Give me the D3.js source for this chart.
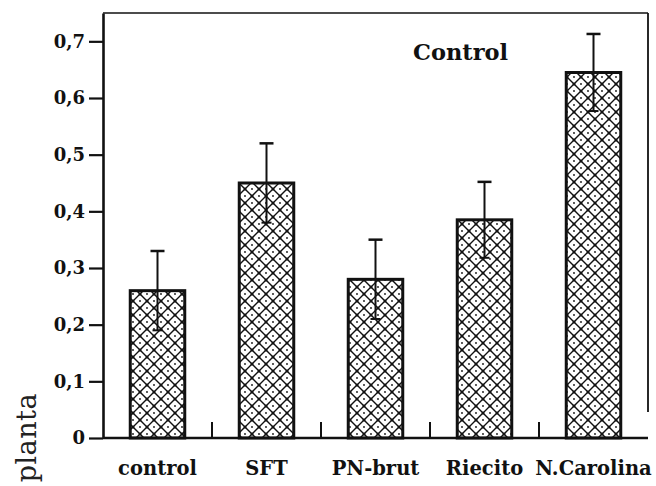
<!DOCTYPE html>
<html>
<head>
<meta charset="utf-8">
<script src="https://cdn.jsdelivr.net/npm/d3@7"></script>
<style>
  html, body { margin: 0; padding: 0; background: #fff; }
  svg { display: block; }
</style>
</head>
<body>
<div id="chart"></div>
<script>
const categories = ["control", "SFT", "PN-brut", "Riecito", "N.Carolina"];
const means = [0.26, 0.45, 0.28, 0.385, 0.645];
const errors = [0.07, 0.07, 0.07, 0.067, 0.068];
const yTicks = [0, 0.1, 0.2, 0.3, 0.4, 0.5, 0.6, 0.7];
const title = "Control";
const yLabel = "planta";

const width = 656, height = 486;
const plotLeft = 103, plotRight = 648, plotTop = 13, plotBottom = 438;
const serif = "'DejaVu Serif', 'Liberation Serif', serif";

const svg = d3.select("#chart").append("svg")
  .attr("width", width)
  .attr("height", height);

// crosshatch with little dots, like the scanned fill
const pat = svg.append("defs").append("pattern")
  .attr("id", "hatch")
  .attr("patternUnits", "userSpaceOnUse")
  .attr("width", 14)
  .attr("height", 14);
pat.append("rect").attr("width", 14).attr("height", 14).attr("fill", "#fff");
pat.append("path")
  .attr("d", "M0,0L14,14M14,0L0,14M-1,13L1,15M13,-1L15,1")
  .attr("stroke", "#111")
  .attr("stroke-width", 1.4);
[[7, 7, 1.5], [0, 0, 1.5], [14, 0, 1.5], [0, 14, 1.5], [14, 14, 1.5], [7, 0, 0.9], [0, 7, 0.9], [14, 7, 0.9], [7, 14, 0.9]]
  .forEach(([cx, cy, r]) => pat.append("circle").attr("cx", cx).attr("cy", cy).attr("r", r).attr("fill", "#111"));

const x = d3.scaleBand()
  .domain(categories)
  .range([plotLeft, plotRight])
  .paddingInner(0.5)
  .paddingOuter(0.25);

const y = d3.scaleLinear()
  .domain([0, 0.75])
  .range([plotBottom, plotTop]);

const fmt = d => d === 0 ? "0" : d.toFixed(1).replace(".", ",");

// frame: top and right (right line stops short, as in the scan)
svg.append("line")
  .attr("x1", plotLeft).attr("x2", plotRight)
  .attr("y1", plotTop).attr("y2", plotTop)
  .attr("stroke", "#111").attr("stroke-width", 1.6);
svg.append("line")
  .attr("x1", plotRight).attr("x2", plotRight)
  .attr("y1", plotTop).attr("y2", 412)
  .attr("stroke", "#111").attr("stroke-width", 1.8);

// bars
svg.selectAll(".bar")
  .data(categories)
  .enter()
  .append("rect")
  .attr("class", "bar")
  .attr("x", d => x(d))
  .attr("width", x.bandwidth())
  .attr("y", (d, i) => y(means[i]))
  .attr("height", (d, i) => y(0) - y(means[i]))
  .attr("fill", "url(#hatch)")
  .attr("stroke", "#111")
  .attr("stroke-width", 3);

// error bars
const err = svg.append("g").attr("stroke", "#111");
categories.forEach((c, i) => {
  const cx = x(c) + x.bandwidth() / 2;
  const hi = y(means[i] + errors[i]);
  const lo = y(means[i] - errors[i]);
  err.append("line").attr("x1", cx).attr("x2", cx).attr("y1", hi).attr("y2", lo).attr("stroke-width", 2);
  err.append("line").attr("x1", cx - 7).attr("x2", cx + 7).attr("y1", hi).attr("y2", hi).attr("stroke-width", 2.5);
  err.append("line").attr("x1", cx - 5).attr("x2", cx + 5).attr("y1", lo).attr("y2", lo).attr("stroke-width", 2);
});

// y axis
const yAxis = svg.append("g")
  .attr("transform", `translate(${plotLeft},0)`)
  .call(d3.axisLeft(y).tickValues(yTicks).tickFormat(fmt).tickSize(14).tickSizeOuter(0).tickPadding(4));
yAxis.select(".domain").attr("stroke", "#111").attr("stroke-width", 2.6);
yAxis.selectAll(".tick line").attr("stroke", "#111").attr("stroke-width", 2.2);
yAxis.selectAll(".tick text")
  .attr("fill", "#111")
  .style("font-family", serif)
  .style("font-weight", "bold")
  .style("font-size", "18px");

// bottom axis line and inward separators
svg.append("line")
  .attr("x1", plotLeft).attr("x2", plotRight)
  .attr("y1", plotBottom).attr("y2", plotBottom)
  .attr("stroke", "#111").attr("stroke-width", 2.4);

const step = x.step();
d3.range(1, categories.length).forEach(i => {
  const tx = plotLeft + i * step;
  svg.append("line")
    .attr("x1", tx).attr("x2", tx)
    .attr("y1", plotBottom).attr("y2", plotBottom - 16)
    .attr("stroke", "#111").attr("stroke-width", 2);
});

svg.selectAll(".cat")
  .data(categories)
  .enter()
  .append("text")
  .attr("class", "cat")
  .attr("x", d => x(d) + x.bandwidth() / 2)
  .attr("y", 475)
  .attr("text-anchor", "middle")
  .attr("fill", "#111")
  .style("font-family", serif)
  .style("font-weight", "bold")
  .style("font-size", "19.5px")
  .text(d => d);

svg.append("text")
  .attr("x", 413)
  .attr("y", 60)
  .attr("fill", "#111")
  .style("font-family", serif)
  .style("font-weight", "bold")
  .style("font-size", "22.5px")
  .text(title);

// y label at the lower left, rotated
svg.append("text")
  .attr("transform", "translate(36,393) rotate(-90)")
  .attr("text-anchor", "end")
  .attr("fill", "#222")
  .style("font-family", serif)
  .style("font-size", "27px")
  .style("letter-spacing", "0.5px")
  .text(yLabel);
</script>
</body>
</html>
